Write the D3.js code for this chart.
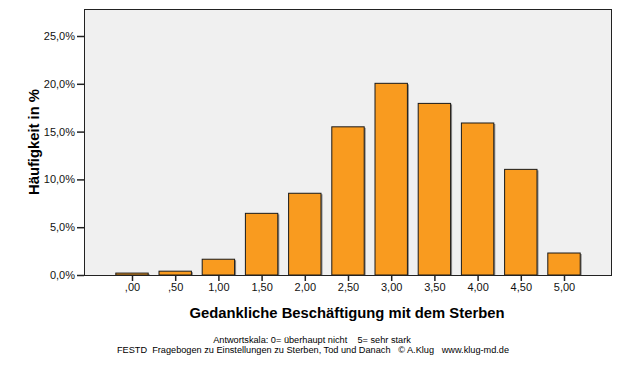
<!DOCTYPE html>
<html>
<head>
<script src="https://d3js.org/d3.v7.min.js"></script>
<style>
  body { margin: 0; background: #fff; }
  svg { display: block; font-family: Arial, "Liberation Sans", sans-serif; }
</style>
</head>
<body>
<svg id="chart" width="626" height="366"></svg>
<script>
// values
const categories = [0, 0.5, 1, 1.5, 2, 2.5, 3, 3.5, 4, 4.5, 5];
const percents = [0.2, 0.4, 1.65, 6.45, 8.55, 15.5, 20.05, 17.95, 15.9, 11.05, 2.3];
const yTicks = [0, 5, 10, 15, 20, 25];

const svg = d3.select("#chart");
const plot = { left: 84, top: 9, right: 612, bottom: 275 };

const x = d3.scaleLinear()
    .domain([0, 5])
    .range([plot.left + 48, plot.right - 48]);
const y = d3.scaleLinear()
    .domain([0, 25])
    .range([plot.bottom, 36]);

const barW = (x(0.5) - x(0)) * 0.75;
const fmtX = d => { let s = d.toFixed(2).replace(".", ","); return s.startsWith("0") ? s.slice(1) : s; };
const fmtY = d => d.toFixed(1).replace(".", ",") + "%";

// plot background
svg.append("rect")
    .attr("x", plot.left).attr("y", plot.top)
    .attr("width", plot.right - plot.left).attr("height", plot.bottom - plot.top)
    .attr("fill", "#f0f0f0");

// bar shadows
svg.append("g").selectAll("rect")
    .data(categories)
    .join("rect")
    .attr("x", (d, i) => x(d) - barW / 2 + 1.5)
    .attr("y", (d, i) => y(percents[i]) + 1)
    .attr("width", barW)
    .attr("height", (d, i) => y(0) - y(percents[i]) - 1)
    .attr("fill", "#8a8a8a");

// bars
svg.append("g").selectAll("rect")
    .data(categories)
    .join("rect")
    .attr("x", (d, i) => x(d) - barW / 2)
    .attr("y", (d, i) => y(percents[i]))
    .attr("width", barW)
    .attr("height", (d, i) => y(0) - y(percents[i]))
    .attr("fill", "#f99b1f")
    .attr("stroke", "#1a1a1a")
    .attr("stroke-width", 1);

// frame
svg.append("rect")
    .attr("x", plot.left + 0.5).attr("y", plot.top + 0.5)
    .attr("width", plot.right - plot.left - 1).attr("height", plot.bottom - plot.top)
    .attr("fill", "none")
    .attr("stroke", "#222")
    .attr("stroke-width", 1);

// y axis
const yAxis = svg.append("g")
    .attr("transform", `translate(${plot.left},0)`)
    .call(d3.axisLeft(y).tickValues(yTicks).tickFormat(fmtY).tickSize(7).tickPadding(2));
yAxis.select(".domain").remove();
yAxis.selectAll("line").attr("stroke", "#222").attr("stroke-width", 1.5);
yAxis.selectAll("text").attr("font-size", 11).attr("fill", "#111").attr("font-family", "Arial, 'Liberation Sans', sans-serif");

// x axis
const xAxis = svg.append("g")
    .attr("transform", `translate(0,${plot.bottom})`)
    .call(d3.axisBottom(x).tickValues(categories).tickFormat(fmtX).tickSize(6).tickPadding(2));
xAxis.select(".domain").remove();
xAxis.selectAll("line").attr("stroke", "#222").attr("stroke-width", 1.5);
xAxis.selectAll("text").attr("font-size", 11).attr("fill", "#111").attr("font-family", "Arial, 'Liberation Sans', sans-serif");

// titles
svg.append("text")
    .attr("transform", "translate(39,142) rotate(-90)")
    .attr("text-anchor", "middle")
    .attr("font-size", 14.8).attr("font-weight", "bold")
    .text("Häufigkeit in %");

svg.append("text")
    .attr("x", 347).attr("y", 318)
    .attr("text-anchor", "middle")
    .attr("font-size", 14.8).attr("font-weight", "bold")
    .text("Gedankliche Beschäftigung mit dem Sterben");

svg.append("text")
    .attr("x", 312).attr("y", 343)
    .attr("text-anchor", "middle")
    .attr("font-size", 9.2)
    .attr("xml:space", "preserve")
    .text("Antwortskala: 0= überhaupt nicht    5= sehr stark");

svg.append("text")
    .attr("x", 313).attr("y", 353)
    .attr("text-anchor", "middle")
    .attr("font-size", 9.2)
    .attr("xml:space", "preserve")
    .text("FESTD  Fragebogen zu Einstellungen zu Sterben, Tod und Danach   © A.Klug   www.klug-md.de");
</script>
</body>
</html>
